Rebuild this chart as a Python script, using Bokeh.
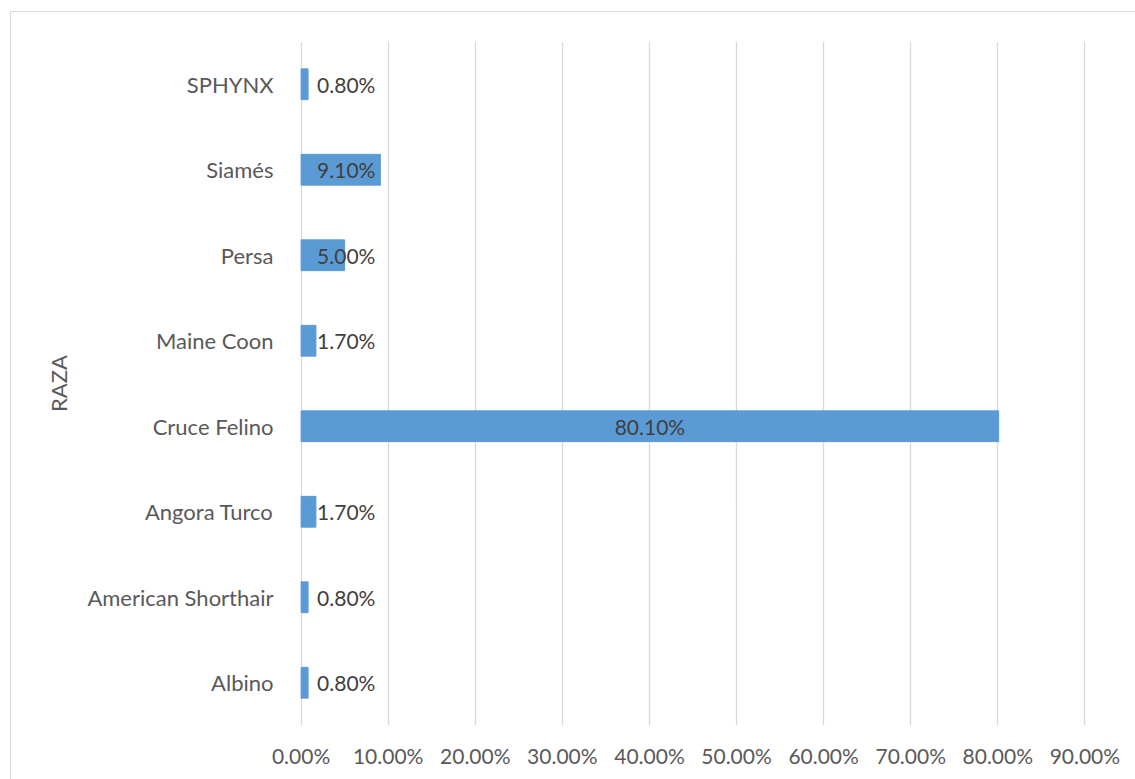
from bokeh.plotting import figure
from bokeh.models import ColumnDataSource, Range1d, FactorRange, FixedTicker, PrintfTickFormatter
from bokeh.embed import file_html
from bokeh.resources import INLINE

# ---- data ----
categories = ["Albino", "American Shorthair", "Angora Turco", "Cruce Felino",
              "Maine Coon", "Persa", "Siamés", "SPHYNX"]
values = [0.80, 0.80, 1.70, 80.10, 1.70, 5.00, 9.10, 0.80]
x_ticks = [0, 10, 20, 30, 40, 50, 60, 70, 80, 90]
axis_title = "RAZA"

FONT = "Lato"
FS = "22px"
BAR = "#5B9BD5"

labels = [f"{v:.2f}%" for v in values]
big = [v > 50 for v in values]
lab_x = [v / 2 if b else 0 for v, b in zip(values, big)]
lab_off = [0 if b else 16 for b in big]
lab_align = ["center" if b else "left" for b in big]

src = ColumnDataSource(dict(cat=categories, val=values, lab=labels,
                            lx=lab_x, lo=lab_off, la=lab_align))

p = figure(y_range=FactorRange(factors=categories, range_padding=0),
           x_range=Range1d(-0.3, 90.3),
           frame_width=789, frame_height=684,
           min_border_left=287, min_border_top=29, min_border_right=60, min_border_bottom=55,
           output_backend="svg", toolbar_location=None)
p.margin = (12, 0, 0, 11)
p.styles = {"outline": "1px solid #d9d9d9"}

p.hbar(y="cat", right="val", left=0, height=0.36, color=BAR, source=src)

p.text(x="lx", y="cat", text="lab", x_offset="lo", text_align="la",
       text_baseline="middle", text_font_size="21px", text_color="#404040",
       text_font={"value": FONT}, source=src)

p.outline_line_color = None
p.background_fill_color = "white"
p.border_fill_color = "white"
p.ygrid.grid_line_color = None
p.xgrid.grid_line_color = "#d9d9d9"
p.xgrid.grid_line_width = 1.3

p.xaxis.ticker = FixedTicker(ticks=x_ticks)
p.xaxis.formatter = PrintfTickFormatter(format="%.2f%%")
for ax in (p.xaxis, p.yaxis):
    ax.axis_line_color = None
    ax.major_tick_line_color = None
    ax.minor_tick_line_color = None
    ax.major_label_text_font = FONT
    ax.major_label_text_color = "#595959"
p.xaxis.major_label_text_font_size = "21px"
p.yaxis.major_label_text_font_size = FS
p.xaxis.major_label_standoff = 11
p.yaxis.major_label_standoff = 19
p.yaxis.axis_label = axis_title
p.yaxis.axis_label_text_font = FONT
p.yaxis.axis_label_text_font_size = FS
p.yaxis.axis_label_text_font_style = "normal"
p.yaxis.axis_label_text_color = "#595959"
p.yaxis.axis_label_standoff = 12

open("out.html", "w").write(file_html(p, INLINE))
